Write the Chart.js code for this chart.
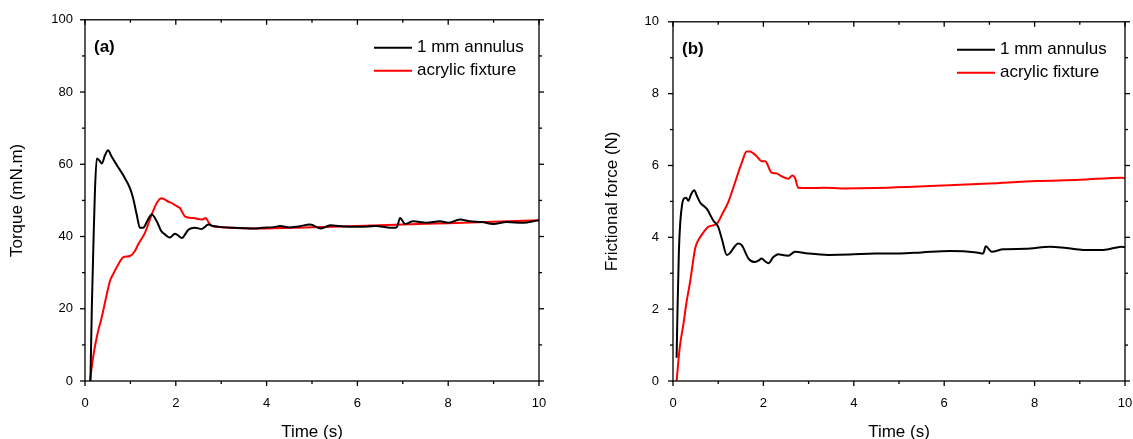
<!DOCTYPE html>
<html>
<head>
<meta charset="utf-8">
<script src="https://cdn.jsdelivr.net/npm/chart.js@4.4.0/dist/chart.umd.min.js"></script>
<style>
    body { margin: 0; background: #fff; width: 1133px; height: 439px; position: relative; overflow: hidden; }
    .panel { position: absolute; top: 0; height: 439px; }
</style>
</head>
<body>
<div class="panel" style="left:0;width:560px"><canvas id="torqueChart" width="560" height="439"></canvas></div>
<div class="panel" style="left:560px;width:573px"><canvas id="forceChart" width="573" height="439"></canvas></div>
<script>
// (a) torque, 1 mm annulus
const torqueAnnulusTime = [0.12, 0.15, 0.19, 0.22, 0.26, 0.32, 0.37, 0.44, 0.51, 0.58, 0.70, 0.84, 0.99, 1.06, 1.14, 1.21, 1.28, 1.38, 1.47, 1.58, 1.68, 1.76, 1.87, 1.98, 2.05, 2.13, 2.28, 2.42, 2.57, 2.72, 2.83, 3.0, 3.27, 3.5, 3.71, 3.9, 4.16, 4.3, 4.5, 4.7, 4.96, 5.2, 5.4, 5.7, 6.06, 6.4, 6.79, 6.87, 6.94, 7.05, 7.23, 7.52, 7.82, 8.0, 8.26, 8.48, 8.75, 8.99, 9.29, 9.65, 9.95, 10];
const torqueAnnulus = [0, 20, 40, 53, 61.6, 61.0, 60.2, 62.5, 63.9, 62.3, 59.8, 57, 53.4, 50.6, 46, 42.4, 42.4, 44.5, 46.1, 44.2, 41.5, 40.6, 39.7, 40.8, 40.3, 39.6, 41.9, 42.4, 42.1, 43.3, 42.9, 42.6, 42.4, 42.3, 42.2, 42.4, 42.6, 42.9, 42.5, 42.8, 43.3, 42.2, 43.1, 42.8, 42.7, 42.9, 42.4, 42.6, 45.1, 43.5, 44.2, 43.8, 44.2, 43.8, 44.7, 44.2, 44.0, 43.5, 44.0, 43.8, 44.4, 44.5];

// (a) torque, acrylic fixture
const torqueAcrylicTime = [0.11, 0.18, 0.26, 0.37, 0.48, 0.55, 0.62, 0.72, 0.84, 0.99, 1.10, 1.17, 1.32, 1.47, 1.58, 1.69, 1.83, 1.95, 2.02, 2.09, 2.20, 2.39, 2.57, 2.66, 2.72, 2.79, 3.0, 3.5, 3.85, 5, 6, 7, 8, 9, 10];
const torqueAcrylic = [0, 6.7, 12.2, 17.7, 24, 27.7, 29.6, 32, 34.2, 34.6, 36, 37.8, 41, 46.1, 49.3, 50.6, 49.7, 49, 48.4, 47.9, 45.6, 45.1, 44.7, 45.1, 44, 42.9, 42.6, 42.3, 42.2, 42.6, 42.9, 43.3, 43.7, 44.1, 44.5];

// (b) frictional force, 1 mm annulus
const forceAnnulusTime = [0.08, 0.10, 0.13, 0.16, 0.20, 0.23, 0.29, 0.34, 0.40, 0.47, 0.53, 0.60, 0.75, 0.89, 1.00, 1.08, 1.19, 1.26, 1.35, 1.44, 1.52, 1.67, 1.81, 1.89, 1.96, 2.04, 2.11, 2.22, 2.33, 2.45, 2.55, 2.70, 2.99, 3.44, 3.91, 4.47, 5.02, 5.5, 6.13, 6.72, 6.86, 6.92, 7.05, 7.31, 7.8, 8.34, 8.7, 9.08, 9.52, 9.93, 10];
const forceAnnulus = [0.65, 2.0, 3.6, 4.4, 4.9, 5.06, 5.1, 5.02, 5.2, 5.31, 5.15, 4.97, 4.79, 4.47, 4.29, 3.96, 3.51, 3.56, 3.72, 3.83, 3.78, 3.41, 3.31, 3.35, 3.41, 3.33, 3.28, 3.45, 3.53, 3.50, 3.49, 3.60, 3.55, 3.51, 3.52, 3.55, 3.55, 3.58, 3.62, 3.58, 3.55, 3.75, 3.60, 3.67, 3.68, 3.74, 3.70, 3.65, 3.65, 3.74, 3.72];

// (b) frictional force, acrylic fixture
const forceAcrylicTime = [0.08, 0.15, 0.23, 0.30, 0.38, 0.49, 0.56, 0.63, 0.78, 0.97, 1.11, 1.22, 1.37, 1.52, 1.63, 1.70, 1.85, 1.96, 2.04, 2.18, 2.29, 2.40, 2.55, 2.64, 2.70, 2.77, 3.0, 3.36, 3.73, 4.47, 5.2, 6.13, 7.0, 8.05, 9.0, 9.93, 10];
const forceAcrylic = [0, 0.94, 1.58, 2.2, 2.77, 3.69, 3.92, 4.06, 4.29, 4.38, 4.70, 4.97, 5.52, 6.07, 6.39, 6.39, 6.26, 6.12, 6.12, 5.80, 5.78, 5.70, 5.63, 5.72, 5.65, 5.38, 5.37, 5.38, 5.36, 5.37, 5.40, 5.45, 5.50, 5.57, 5.60, 5.66, 5.65];

const seriesLabels = ['1 mm annulus', 'acrylic fixture'];
const seriesColors = ['#000000', '#ff0000'];
const xTitle = 'Time (s)';

const FONT = "Arial, 'Liberation Sans', sans-serif";

const toPoints = (xs, ys) => xs.map((x, i) => ({ x: x, y: ys[i] }));

// box frame, mirrored ticks, legend and panel label
const framePlugin = {
    id: 'frame',
    afterDraw(chart, args, opts) {
        const ctx = chart.ctx;
        const a = chart.chartArea;
        const xs = chart.scales.x;
        const ys = chart.scales.y;
        const seg = (x1, y1, x2, y2) => { ctx.beginPath(); ctx.moveTo(x1, y1); ctx.lineTo(x2, y2); ctx.stroke(); };

        ctx.save();
        ctx.strokeStyle = '#000';
        ctx.lineWidth = 1.3;
        ctx.strokeRect(a.left, a.top, a.right - a.left, a.bottom - a.top);

        for (let i = 0; i <= 10; i++) {
            const len = i % 2 === 0 ? 5 : 3;
            const px = xs.getPixelForValue(i);
            seg(px, a.bottom, px, a.bottom + len);
            seg(px, a.top, px, a.top + len);
            const py = ys.getPixelForValue(ys.min + i * opts.yStep);
            seg(a.left - len, py, a.left, py);
            seg(a.right, py, a.right + len, py);
        }

        // legend
        ctx.font = '17px ' + FONT;
        ctx.textBaseline = 'middle';
        ctx.textAlign = 'left';
        chart.data.datasets.forEach((ds, i) => {
            const ly = a.top + 28 + i * 23;
            const lx = a.left + opts.legendX;
            ctx.strokeStyle = ds.borderColor;
            ctx.lineWidth = 2;
            seg(lx, ly, lx + 38, ly);
            ctx.fillStyle = '#000';
            ctx.fillText(ds.label, lx + 43, ly);
        });

        ctx.font = 'bold 17px ' + FONT;
        ctx.fillText(opts.panel, a.left + 9, a.top + 28);
        ctx.restore();
    }
};

function makeChart(id, sets, yMax, yStep, yTitle, yOpts) {
    const ctx = document.getElementById(id).getContext('2d');
    return new Chart(ctx, {
        type: 'line',
        data: {
            datasets: sets.map((s, i) => ({
                label: seriesLabels[i],
                data: s,
                borderColor: seriesColors[i],
                borderWidth: 2,
                pointRadius: 0,
                fill: false,
                cubicInterpolationMode: 'monotone'
            }))
        },
        options: {
            responsive: false,
            animation: false,
            devicePixelRatio: 1,
            layout: { padding: { top: 17, right: yOpts.rightPad, left: 0, bottom: 0 } },
            scales: {
                x: {
                    type: 'linear',
                    min: 0,
                    max: 10,
                    afterFit: (scale) => {
                        scale.height = 58;
                        scale.paddingLeft = 0;
                        scale.paddingRight = 0;
                    },
                    grid: { display: false, drawTicks: false },
                    border: { display: false },
                    ticks: { stepSize: 2, color: '#000', font: { family: FONT, size: 13 }, padding: 15, maxRotation: 0 },
                    title: { display: true, text: xTitle, color: '#000', font: { family: FONT, size: 17, lineHeight: 1 }, padding: { top: 0, bottom: -1.5 } }
                },
                y: {
                    min: 0,
                    max: yMax,
                    afterFit: (scale) => { scale.width = yOpts.axisWidth; },
                    grid: { display: false, drawTicks: false },
                    border: { display: false },
                    ticks: { stepSize: yStep * 2, color: '#000', font: { family: FONT, size: 13 }, padding: yOpts.labelPad },
                    title: { display: true, text: yTitle, color: '#000', font: { family: FONT, size: 17, lineHeight: 1 }, padding: { top: yOpts.titlePad, bottom: 0 } }
                }
            },
            plugins: {
                legend: { display: false },
                tooltip: { enabled: false },
                frame: { yStep: yStep, legendX: yOpts.legendX, panel: yOpts.panel }
            }
        },
        plugins: [framePlugin]
    });
}

document.addEventListener('DOMContentLoaded', () => {
    makeChart('torqueChart',
        [toPoints(torqueAnnulusTime, torqueAnnulus), toPoints(torqueAcrylicTime, torqueAcrylic)],
        100, 10, 'Torque (mN.m)',
        { axisWidth: 85, rightPad: 21, labelPad: 12, titlePad: 8.5, legendX: 289, panel: '(a)' });
    makeChart('forceChart',
        [toPoints(forceAnnulusTime, forceAnnulus), toPoints(forceAcrylicTime, forceAcrylic)],
        10, 1, 'Frictional force (N)',
        { axisWidth: 113, rightPad: 8, labelPad: 14, titlePad: 44, legendX: 284, panel: '(b)' });
});
</script>
</body>
</html>
